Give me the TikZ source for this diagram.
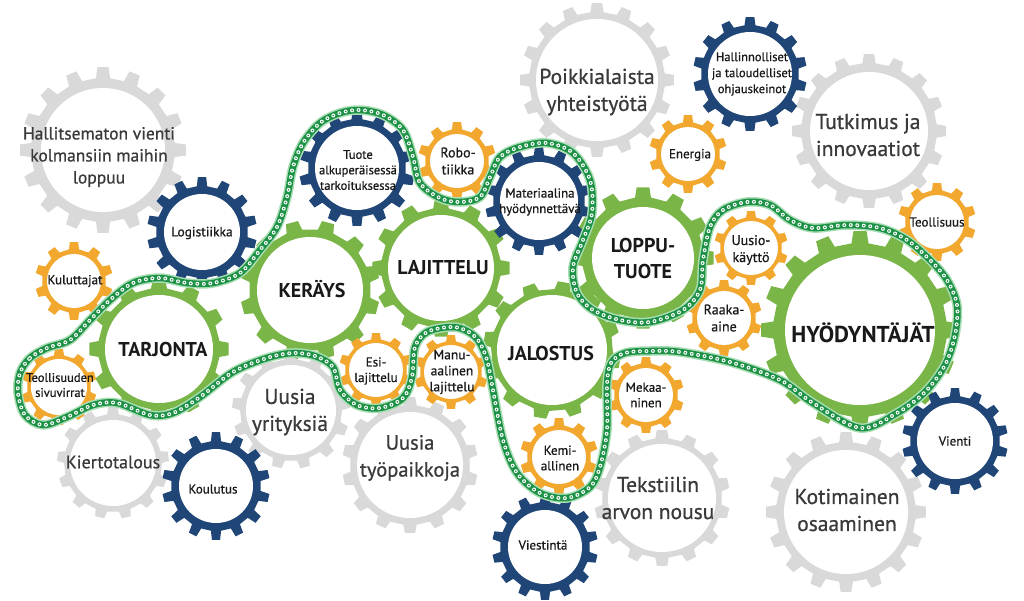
\documentclass[tikz,border=0pt]{standalone}
\usepackage{fontspec}
\setmainfont{PT Sans}
\newfontfamily\medfont{PT Sans}[FakeBold=0.7]
\definecolor{gGray}{HTML}{D9D9D9}
\definecolor{gNavy}{HTML}{1F4676}
\definecolor{gGreen}{HTML}{7AB547}
\definecolor{gOrange}{HTML}{F2A72E}
\definecolor{txGray}{HTML}{3A3A3A}
\definecolor{chDark}{HTML}{1D9145}
\definecolor{chLight}{HTML}{A8DEB4}
\newcommand{\drawgear}[8]{%
 \pgfmathsetmacro\gp{360/#6}%
 \pgfmathtruncatemacro\gn{#6-1}%
 \fill[#7,shift={(#1,#2)}] ({#8-0.25*\gp}:#4pt)
   \foreach \i in {0,...,\gn}{ -- ({#8+\i*\gp-0.17*\gp}:#3pt) -- ({#8+\i*\gp+0.17*\gp}:#3pt) -- ({#8+\i*\gp+0.25*\gp}:#4pt) -- ({#8+(\i+1)*\gp-0.25*\gp}:#4pt)} -- cycle;
 \fill[white,shift={(#1,#2)}] (0,0) circle[radius=#5pt];
}
\tikzset{
 graylabel/.style={text=txGray, font=\medfont\fontsize{21.5}{27}\selectfont, align=center},
 biglabel/.style={text=black!90, font=\bfseries\fontsize{20}{23}\selectfont, align=center},
 smalllabel/.style={text=black!90, font=\medfont\fontsize{13}{15.5}\selectfont, align=center},
 chainbase/.style={line width=9.5pt, chLight, line join=round},
 chainbody/.style={line width=6.5pt, chDark},
 chainlinks/.style={line width=4pt, white, dash pattern=on 0pt off 6.5pt, line cap=round},
 chaincore/.style={line width=1.8pt, chDark, dash pattern=on 0pt off 6.5pt, line cap=round}
}
\begin{document}
\begin{tikzpicture}[x=1pt,y=-1pt]
\useasboundingbox[fill=white] (0,0) rectangle (1024,600);
% gray gears
\drawgear{103}{150}{83}{72}{62}{16}{gGray}{90}
\drawgear{597}{80}{77}{68}{61}{16}{gGray}{90}
\drawgear{869}{131}{77}{68}{59}{16}{gGray}{90}
\drawgear{291}{410}{59}{51}{45}{13}{gGray}{90}
\drawgear{113}{463}{56}{49}{43}{13}{gGray}{90}
\drawgear{410}{465}{68}{60}{53}{14}{gGray}{90}
\drawgear{662}{498}{68}{60}{54}{14}{gGray}{90}
\drawgear{846}{512}{80}{70}{62}{16}{gGray}{90}
% green gears
\drawgear{159}{349}{70}{61}{54}{12}{gGreen}{90}
\drawgear{310}{290}{70}{61}{53}{12}{gGreen}{75}
\drawgear{441}{268}{69}{60}{53}{12}{gGreen}{90}
\drawgear{552}{350}{69}{61}{55}{12}{gGreen}{80}
\drawgear{643}{258}{71}{61}{51}{12}{gGreen}{90}
\drawgear{860}{330}{99}{87}{75}{16}{gGreen}{90}
% navy gears
\drawgear{202}{232}{55}{46}{38}{14}{gNavy}{90}
\drawgear{357}{168}{58}{49}{42}{14}{gNavy}{90}
\drawgear{539}{201}{54}{46}{39}{14}{gNavy}{90}
\drawgear{750}{74}{57}{49}{42}{14}{gNavy}{90}
\drawgear{216}{486}{54}{45}{37}{14}{gNavy}{90}
\drawgear{545}{547}{53}{45}{37}{14}{gNavy}{90}
\drawgear{955}{441}{53}{45}{38}{14}{gNavy}{90}
% orange gears
\drawgear{457}{161}{39}{32}{27}{10}{gOrange}{90}
\drawgear{688}{154}{39}{32}{27}{10}{gOrange}{90}
\drawgear{937}{222}{39}{32}{27}{10}{gOrange}{90}
\drawgear{74}{281}{39}{32}{27}{10}{gOrange}{90}
\drawgear{751}{248}{37}{31}{27}{10}{gOrange}{90}
\drawgear{724}{318}{38}{32}{27}{10}{gOrange}{90}
\drawgear{59}{387}{38}{32}{28}{10}{gOrange}{90}
\drawgear{376}{370}{37}{31}{27}{10}{gOrange}{90}
\drawgear{451}{372}{37}{31}{27}{10}{gOrange}{90}
\drawgear{646}{395}{38}{32}{27}{10}{gOrange}{90}
\drawgear{559}{457}{39}{32}{27}{10}{gOrange}{90}
% chain
\foreach \s in {chainbase,chainbody,chainlinks,chaincore}
\draw[\s] plot[smooth cycle, tension=0.55] coordinates {
(20,373) (30,358) (47,348) (70,340) (90,320) (110,300) (133,283) (160,278) (187,283) (213,283) (240,273) (260,250) (277,227) (287,197) (293,167) (303,143) (320,123) (340,113) (360,110) (383,115) (403,130) (413,157) (420,183) (440,198) (460,202) (480,197) (490,177) (500,157) (520,147) (547,143) (573,153) (590,180) (592,213) (583,240) (573,267) (577,293) (593,310) (620,320) (650,322) (683,310) (700,290) (703,260) (710,227) (723,210) (747,202) (770,205) (790,220) (813,228) (847,225) (880,228) (907,240) (930,260) (947,280) (957,305) (955,335) (945,365) (925,392) (897,413) (860,428) (813,403) (780,380) (730,362) (680,352) (650,351) (625,353) (611,363) (607,385) (607,430) (600,467) (590,487) (567,498) (540,493) (517,473) (503,440) (493,390) (487,360) (478,340) (465,330) (450,327) (427,332) (415,347) (412,377) (403,398) (380,408) (357,405) (340,390) (333,367) (315,356) (293,353) (267,358) (233,372) (200,397) (173,413) (150,415) (117,403) (93,405) (67,417) (43,425) (25,415) (18,393)};
% labels
\node[graylabel, font=\medfont\fontsize{17.5}{22}\selectfont] (hallitsematon) at (99,157) {Hallitsematon vienti\\kolmansiin maihin\\loppuu};
\node[graylabel] (poikkialaista) at (597,92) {Poikkialaista\\yhteistyötä};
\node[graylabel] (tutkimus) at (868,135) {Tutkimus ja\\innovaatiot};
\node[graylabel] (yrityksia) at (290,412) {Uusia\\yrityksiä};
\node[graylabel, font=\medfont\fontsize{18}{22}\selectfont] (kiertotalous) at (113,462) {Kiertotalous};
\node[graylabel, font=\medfont\fontsize{20.5}{27}\selectfont] (tyopaikkoja) at (410,458) {Uusia\\työpaikkoja};
\node[graylabel] (tekstiilin) at (658,498) {Tekstiilin\\arvon nousu};
\node[graylabel] (kotimainen) at (847,510) {Kotimainen\\osaaminen};
\node[biglabel] (tarjonta) at (163,349) {TARJONTA};
\node[biglabel] (kerays) at (312,289) {KERÄYS};
\node[biglabel] (lajittelu) at (443,268) {LAJITTELU};
\node[biglabel] (jalostus) at (551,353) {JALOSTUS};
\node[biglabel, font=\bfseries\fontsize{20}{26}\selectfont] (lopputuote) at (643,258) {LOPPU-\\TUOTE};
\node[biglabel, font=\bfseries\fontsize{23}{26}\selectfont] (hyodyntajat) at (863,333) {HYÖDYNTÄJÄT};
\node[smalllabel, font=\medfont\fontsize{13.5}{16}\selectfont] (logistiikka) at (202,233) {Logistiikka};
\node[smalllabel, font=\medfont\fontsize{12.5}{15.5}\selectfont] (tuote) at (358,170) {Tuote\\alkuperäisessä\\tarkoituksessa};
\node[smalllabel] (materiaalina) at (540,202) {Materiaalina\\hyödynnettävä};
\node[smalllabel, font=\medfont\fontsize{12.5}{16}\selectfont] (hallinnolliset) at (752,74) {Hallinnolliset\\ja taloudelliset\\ohjauskeinot};
\node[smalllabel] (koulutus) at (213,489) {Koulutus};
\node[smalllabel] (viestinta) at (543,545) {Viestintä};
\node[smalllabel] (vienti) at (955,441) {Vienti};
\node[smalllabel, font=\medfont\fontsize{14}{17}\selectfont] (robotiikka) at (458,161) {Robo-\\tiikka};
\node[smalllabel] (energia) at (690,155) {Energia};
\node[smalllabel] (teollisuus) at (937,222) {Teollisuus};
\node[smalllabel] (kuluttajat) at (75,281) {Kuluttajat};
\node[smalllabel, font=\medfont\fontsize{14}{17}\selectfont] (uusiokaytto) at (751,250) {Uusio-\\käyttö};
\node[smalllabel, font=\medfont\fontsize{14}{17}\selectfont] (raaka) at (724,318) {Raaka-\\aine};
\node[smalllabel, font=\medfont\fontsize{12.5}{15}\selectfont] (sivuvirrat) at (60,385) {Teollisuuden\\sivuvirrat};
\node[smalllabel] (esi) at (376,371) {Esi-\\lajittelu};
\node[smalllabel, font=\medfont\fontsize{13.5}{16}\selectfont] (manu) at (452,372) {Manu-\\aalinen\\lajittelu};
\node[smalllabel] (mekaaninen) at (646,395) {Mekaa-\\ninen};
\node[smalllabel] (kemiallinen) at (560,458) {Kemi-\\allinen};
\end{tikzpicture}
\end{document}
